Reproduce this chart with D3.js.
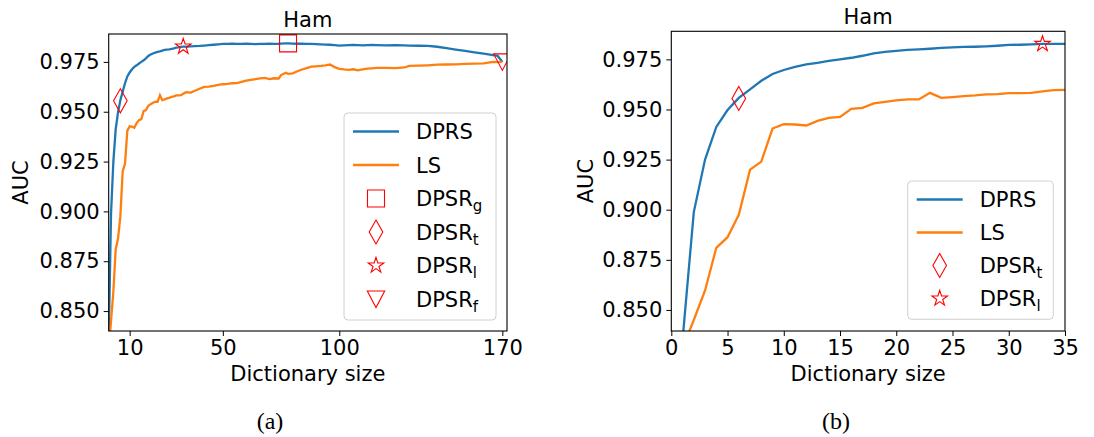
<!DOCTYPE html>
<meta charset="utf-8">
<script src="https://d3js.org/d3.v7.min.js"></script>
<style>
  body { margin: 0; background: #fff; }
  text { fill: #000; }
</style>
<div id="my_dataviz"></div>
<script>

// dictionary sizes 1..35 (both panels)
var sizeFine = [1,2,3,4,5,6,7,8,9,10,11,12,13,14,15,16,17,18,19,20,21,22,23,24,25,26,27,28,29,30,31,32,33,34,35];
var dprsFine = [0.835,0.8988,0.925,0.9413,0.9497,0.9558,0.960,0.9643,0.9677,0.9697,0.9713,0.9725,0.9733,0.9742,0.975,
  0.9758,0.9768,0.978,0.9787,0.9792,0.9797,0.980,0.9803,0.9807,0.981,0.9812,0.9813,0.9815,0.9818,0.9822,0.9823,0.9825,0.9827,0.9827,0.9827];
var lsFine = [0.831,0.845,0.8597,0.881,0.8863,0.8975,0.920,0.924,0.9405,0.9427,0.9425,0.942,0.9443,0.9458,0.9463,
  0.9503,0.9508,0.953,0.9538,0.9545,0.955,0.955,0.9583,0.9558,0.9562,0.9567,0.957,0.9575,0.9577,0.9582,0.9582,0.9583,0.959,0.9597,0.9598];

// larger dictionary sizes (panel a only)
var sizeWide = [36,38,40,42,44,46,48,50,52,54,56,58,60,62,64,66,68,70,72,74,75,77,78,80,82,84,86,88,90,92,94,96,98,100,
  102,104,106,108,110,112,114,116,120,124,128,130,134,138,142,146,150,154,158,162,166,168,170];
var dprsWide = [0.9828,0.9829,0.983,0.9832,0.9834,0.9836,0.9838,0.984,0.984,0.9841,0.984,0.984,0.9841,0.984,0.9839,0.984,0.984,
  0.9841,0.984,0.9841,0.9842,0.9843,0.9843,0.9842,0.9841,0.9841,0.984,0.984,0.9839,0.9838,0.9837,0.9836,0.9834,0.9832,
  0.9833,0.9834,0.9835,0.9834,0.9833,0.9834,0.9835,0.9834,0.9833,0.9834,0.9833,0.9832,0.9831,0.983,0.9826,0.9819,0.9812,
  0.9805,0.9798,0.9792,0.9784,0.978,0.975];
var lsWide = [0.9595,0.9605,0.9615,0.9625,0.9626,0.963,0.9635,0.9638,0.964,0.9643,0.9644,0.965,0.9656,0.966,0.9664,0.9667,0.967,
  0.9664,0.9668,0.9667,0.9684,0.9696,0.969,0.9693,0.9703,0.9712,0.9719,0.9726,0.9728,0.973,0.9733,0.9737,0.9724,0.9715,
  0.9712,0.971,0.9713,0.9708,0.9713,0.9716,0.9718,0.972,0.972,0.9719,0.9722,0.973,0.9731,0.9733,0.9736,0.9737,0.9738,
  0.974,0.9741,0.9743,0.975,0.9749,0.975];

// selected points [size, AUC]
var dpsrG = [78, 0.9843];
var dpsrT = [6, 0.9555];
var dpsrL = [33, 0.9827];
var dpsrF = [170, 0.975];

var yTicks = [0.850, 0.875, 0.900, 0.925, 0.950, 0.975];
var xTicksA = [10, 50, 100, 170];
var xTicksB = [0, 5, 10, 15, 20, 25, 30, 35];

var blue = "#1f77b4", orange = "#ff7f0e", red = "red";
var sans = "DejaVu Sans, sans-serif";

var svg = d3.select("#my_dataviz").append("svg")
  .attr("width", 1094).attr("height", 437);

// marker shapes
function markerPath(kind) {
  var p = d3.path();
  if (kind == "g") { var h = 8.5; p.rect(-h, -h, 2*h, 2*h); }
  else if (kind == "t") { p.moveTo(0,-12); p.lineTo(6.8,0); p.lineTo(0,12); p.lineTo(-6.8,0); p.closePath(); }
  else if (kind == "f") { p.moveTo(-8.7,-8); p.lineTo(8.7,-8); p.lineTo(0,8.5); p.closePath(); }
  else if (kind == "l") {
    var R = 8.2, r = R*0.382;
    for (var i = 0; i < 10; i++) {
      var a = -Math.PI/2 + i*Math.PI/5, rr = i%2 ? r : R;
      if (i == 0) p.moveTo(rr*Math.cos(a), rr*Math.sin(a)); else p.lineTo(rr*Math.cos(a), rr*Math.sin(a));
    }
    p.closePath();
  }
  return p.toString();
}

function panel(opt) {
  var x = d3.scaleLinear().domain(opt.xDomain).range([opt.left, opt.right]);
  var y = d3.scaleLinear().domain(opt.yDomain).range([opt.bottom, opt.top]);
  var g = svg.append("g").style("font-family", sans);

  g.append("clipPath").attr("id", opt.id)
    .append("rect").attr("x", opt.left).attr("y", opt.top)
    .attr("width", opt.right - opt.left).attr("height", opt.bottom - opt.top);

  var line = d3.line().x(function(d){ return x(d[0]); }).y(function(d){ return y(d[1]); });
  var plot = g.append("g").attr("clip-path", "url(#" + opt.id + ")");
  plot.append("path").datum(d3.zip(opt.sizes, opt.dprs))
    .attr("d", line).attr("fill", "none").attr("stroke", blue).attr("stroke-width", 2.3);
  plot.append("path").datum(d3.zip(opt.sizes, opt.ls))
    .attr("d", line).attr("fill", "none").attr("stroke", orange).attr("stroke-width", 2.3);

  plot.selectAll(".mk").data(opt.marks).enter().append("path")
    .attr("transform", function(d){ return "translate(" + x(d.pt[0]) + "," + y(d.pt[1]) + ")"; })
    .attr("d", function(d){ return markerPath(d.kind); })
    .attr("fill", "none").attr("stroke", red).attr("stroke-width", 1.1);

  // axes
  var ax = g.append("g").attr("transform", "translate(0," + opt.bottom + ")")
    .call(d3.axisBottom(x).tickValues(opt.xTicks).tickSize(5).tickPadding(4).tickSizeOuter(0));
  var ay = g.append("g").attr("transform", "translate(" + opt.left + ",0)")
    .call(d3.axisLeft(y).tickValues(yTicks).tickFormat(d3.format(".3f")).tickSize(5).tickPadding(4).tickSizeOuter(0));
  [ax, ay].forEach(function(a){
    a.attr("font-family", null).attr("font-size", null);
    a.select(".domain").remove();
    a.selectAll("text").style("font-size", "21px").attr("fill", "#000");
    a.selectAll("line").attr("stroke", "#000").attr("stroke-width", 1);
  });

  g.append("rect").attr("x", opt.left).attr("y", opt.top)
    .attr("width", opt.right - opt.left).attr("height", opt.bottom - opt.top)
    .attr("fill", "none").attr("stroke", "#000").attr("stroke-width", 1.1);

  var cx = (opt.left + opt.right) / 2;
  g.append("text").attr("x", cx).attr("y", opt.top - 7).attr("text-anchor", "middle")
    .style("font-size", "21px").text("Ham");
  g.append("text").attr("x", cx).attr("y", 381).attr("text-anchor", "middle")
    .style("font-size", "21px").text("Dictionary size");
  g.append("text").attr("transform", "translate(" + opt.yLabelX + "," + ((opt.top + opt.bottom)/2) + ") rotate(-90)")
    .attr("text-anchor", "middle").attr("dominant-baseline", "central")
    .style("font-size", "21px").text("AUC");

  // legend
  var L = opt.legend;
  var lg = g.append("g");
  lg.append("rect").attr("x", L.x).attr("y", L.y).attr("width", L.w).attr("height", L.h)
    .attr("rx", 4).attr("fill", "#fff").attr("fill-opacity", 0.8)
    .attr("stroke", "#d0d0d0").attr("stroke-width", 1);
  var items = [{label: "DPRS", color: blue}, {label: "LS", color: orange}]
    .concat(opt.marks.map(function(m){ return {label: "DPSR", sub: m.kind, kind: m.kind}; }));
  items.forEach(function(it, i) {
    var yy = L.y + L.first + i * L.step;
    if (it.color) {
      lg.append("line").attr("x1", L.x + 9).attr("x2", L.x + 55).attr("y1", yy).attr("y2", yy)
        .attr("stroke", it.color).attr("stroke-width", 2.3);
    } else {
      lg.append("path").attr("transform", "translate(" + (L.x + 32) + "," + yy + ")")
        .attr("d", markerPath(it.kind)).attr("fill", "none").attr("stroke", red).attr("stroke-width", 1.1);
    }
    var t = lg.append("text").attr("x", L.x + 72).attr("y", yy + 7.5).style("font-size", "21px").text(it.label);
    if (it.sub) t.append("tspan").style("font-size", "15px").attr("dy", 5).text(it.sub);
  });
}

panel({
  id: "clipA", left: 108.7, right: 507, top: 34, bottom: 331,
  xDomain: [1, 172], yDomain: [0.840, 0.989], xTicks: xTicksA, yLabelX: 21,
  sizes: sizeFine.concat(sizeWide), dprs: dprsFine.concat(dprsWide), ls: lsFine.concat(lsWide),
  marks: [{kind: "g", pt: dpsrG}, {kind: "t", pt: dpsrT}, {kind: "l", pt: dpsrL}, {kind: "f", pt: dpsrF}],
  legend: {x: 344, y: 113, w: 152, h: 207, first: 18.5, step: 33.5}
});

panel({
  id: "clipB", left: 671.3, right: 1065, top: 31.3, bottom: 331,
  xDomain: [0, 35], yDomain: [0.8395, 0.989], xTicks: xTicksB, yLabelX: 586,
  sizes: sizeFine, dprs: dprsFine, ls: lsFine,
  marks: [{kind: "t", pt: dpsrT}, {kind: "l", pt: dpsrL}],
  legend: {x: 907.7, y: 181, w: 145.6, h: 138.3, first: 18.5, step: 33}
});

svg.append("text").attr("x", 270).attr("y", 429).attr("text-anchor", "middle")
  .style("font-family", "'Liberation Serif', 'DejaVu Serif', serif").style("font-size", "24px").text("(a)");
svg.append("text").attr("x", 836).attr("y", 429).attr("text-anchor", "middle")
  .style("font-family", "'Liberation Serif', 'DejaVu Serif', serif").style("font-size", "24px").text("(b)");

</script>
